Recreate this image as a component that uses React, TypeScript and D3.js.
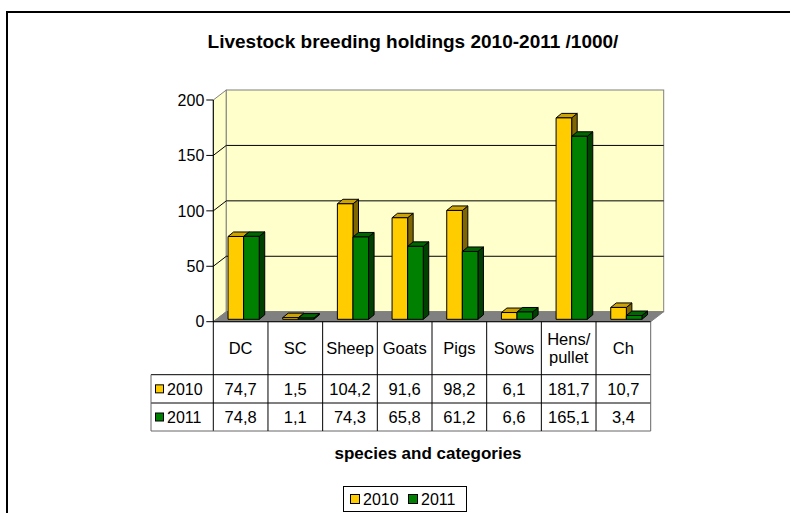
import React from 'react';
import * as d3 from 'd3';

const categories = ['DC', 'SC', 'Sheep', 'Goats', 'Pigs', 'Sows', 'Hens/\npullet', 'Ch'];
const series = ['2010', '2011'];
const values2010 = [74.7, 1.5, 104.2, 91.6, 98.2, 6.1, 181.7, 10.7];
const values2011 = [74.8, 1.1, 74.3, 65.8, 61.2, 6.6, 165.1, 3.4];
const yTicks = [0, 50, 100, 150, 200];

const colors: Record<string, { front: string; top: string; side: string }> = {
  '2010': { front: '#FFCC00', top: '#CCA300', side: '#806600' },
  '2011': { front: '#008000', top: '#006600', side: '#004000' },
};

const FONT = '"Liberation Sans", Arial, sans-serif';
const fmt = (v: number) => String(v.toFixed(1)).replace('.', ',');

export default function App() {
  const width = 790;
  const height = 513;

  // plot geometry (front plane)
  const left = 213.3;
  const right = 650.7;
  const depth = { dx: 13, dy: -10 };
  const barOff = { dx: 3, dy: -2.4 };
  const barDepth = { dx: 5.5, dy: -4.5 };

  const y = d3.scaleLinear().domain([0, 200]).range([321.7, 100]);
  const x = d3.scaleBand<string>().domain(categories).range([left, right]).padding(0);
  const barW = 15.6;

  const table = { left: 151, top: y(0), header: 374.7, row1: 403, bottom: 431 };

  const rows = [
    { name: series[0], vals: values2010 },
    { name: series[1], vals: values2011 },
  ];

  const bars: React.ReactNode[] = [];
  categories.forEach((c, i) => {
    const cx = (x(c) as number) + x.bandwidth() / 2;
    const inner = d3.scaleBand<string>().domain(series).range([cx - barW, cx + barW]).padding(0);
    rows.forEach((r) => {
      const col = colors[r.name];
      const x0 = (inner(r.name) as number) + barOff.dx;
      const x1 = x0 + inner.bandwidth();
      const yb = y(0) + barOff.dy;
      const yt = y(r.vals[i]) + barOff.dy;
      const { dx, dy } = barDepth;
      bars.push(
        <g key={c + r.name} stroke="#000" strokeWidth={1} strokeLinejoin="round">
          <polygon points={`${x1},${yb} ${x1 + dx},${yb + dy} ${x1 + dx},${yt + dy} ${x1},${yt}`} fill={col.side} />
          <polygon points={`${x0},${yt} ${x1},${yt} ${x1 + dx},${yt + dy} ${x0 + dx},${yt + dy}`} fill={col.top} />
          <rect x={x0} y={yt} width={x1 - x0} height={Math.max(0.5, yb - yt)} fill={col.front} />
        </g>
      );
    });
  });

  const y0 = y(0);
  const yTop = y(200);

  return (
    <svg width={width} height={height} style={{ position: 'absolute', left: 0, top: 0 }} fontFamily={FONT}>
      <rect x={0} y={0} width={width} height={height} fill="#fff" />
      <rect x={7} y={12} width={900} height={600} fill="#fff" stroke="#000" strokeWidth={2} />

      <text x={413} y={48} textAnchor="middle" fontSize={19} fontWeight="bold">
        Livestock breeding holdings 2010-2011 /1000/
      </text>

      {/* side wall */}
      <polygon
        points={`${left},${yTop} ${left + depth.dx},${yTop + depth.dy} ${left + depth.dx},${y0 + depth.dy} ${left},${y0}`}
        fill="#FFFFCC"
        stroke="#808080"
      />
      {/* back wall */}
      <rect x={left + depth.dx} y={yTop + depth.dy} width={right - left} height={y0 - yTop} fill="#FFFFCC" stroke="#808080" />
      {/* floor */}
      <polygon
        points={`${left},${y0} ${right},${y0} ${right + depth.dx},${y0 + depth.dy} ${left + depth.dx},${y0 + depth.dy}`}
        fill="#808080"
        stroke="#808080"
      />
      {/* gridlines on back and side wall */}
      {yTicks.slice(1, 4).map((t) => (
        <g key={t}>
          <line x1={left + depth.dx} x2={right + depth.dx} y1={y(t) + depth.dy} y2={y(t) + depth.dy} stroke="#000" />
          <line x1={left} x2={left + depth.dx} y1={y(t)} y2={y(t) + depth.dy} stroke="#000" />
        </g>
      ))}

      {bars}

      {/* y axis */}
      <line x1={left} x2={left} y1={yTop} y2={table.bottom} stroke="#000" />
      {yTicks.map((t) => (
        <g key={t}>
          <line x1={left - 7} x2={left} y1={y(t)} y2={y(t)} stroke="#000" />
          <text x={left - 9} y={y(t)} dy="0.36em" textAnchor="end" fontSize={16}>
            {t}
          </text>
        </g>
      ))}

      {/* data table */}
      <g stroke="#000" strokeWidth={1}>
        <line x1={left} x2={right} y1={table.top} y2={table.top} />
        <line x1={table.left} x2={right} y1={table.header} y2={table.header} />
        <line x1={table.left} x2={right} y1={table.row1} y2={table.row1} />
        <line x1={table.left} x2={right} y1={table.bottom} y2={table.bottom} stroke="#666" />
        <line x1={table.left} x2={table.left} y1={table.header} y2={table.bottom} stroke="#666" />
        {categories.map((c) => (
          <line key={c} x1={(x(c) as number) + x.bandwidth()} x2={(x(c) as number) + x.bandwidth()} y1={table.top} y2={table.bottom} stroke={c === 'Ch' ? '#666' : '#000'} />
        ))}
      </g>
      {categories.map((c) => {
        const cx = (x(c) as number) + x.bandwidth() / 2;
        const lines = c.split('\n');
        const mid = (table.top + table.header) / 2;
        return (
          <text key={c} x={cx} textAnchor="middle" fontSize={16.5}>
            {lines.map((l, k) => (
              <tspan key={k} x={cx} y={mid + (k - (lines.length - 1) / 2) * 18} dy="0.36em">
                {l}
              </tspan>
            ))}
          </text>
        );
      })}
      {rows.map((r, ri) => {
        const ya = ri === 0 ? table.header : table.row1;
        const yb = ri === 0 ? table.row1 : table.bottom;
        const ym = (ya + yb) / 2;
        return (
          <g key={r.name}>
            <rect x={155.5} y={ym - 4} width={8} height={8} fill={colors[r.name].front} stroke="#000" />
            <text x={167} y={ym} dy="0.36em" fontSize={16}>
              {r.name}
            </text>
            {r.vals.map((v, i) => (
              <text key={i} x={(x(categories[i]) as number) + x.bandwidth() / 2} y={ym} dy="0.36em" textAnchor="middle" fontSize={16.5}>
                {fmt(v)}
              </text>
            ))}
          </g>
        );
      })}

      <text x={428} y={459} textAnchor="middle" fontSize={17} fontWeight="bold">
        species and categories
      </text>

      {/* legend */}
      <rect x={343.5} y={486.5} width={123} height={25} fill="#fff" stroke="#000" />
      {series.map((s, i) => (
        <g key={s} transform={`translate(${350 + i * 58},${499})`}>
          <rect x={0.5} y={-4.5} width={9} height={9} fill={colors[s].front} stroke="#000" />
          <text x={13} y={0} dy="0.36em" fontSize={16}>
            {s}
          </text>
        </g>
      ))}
    </svg>
  );
}
